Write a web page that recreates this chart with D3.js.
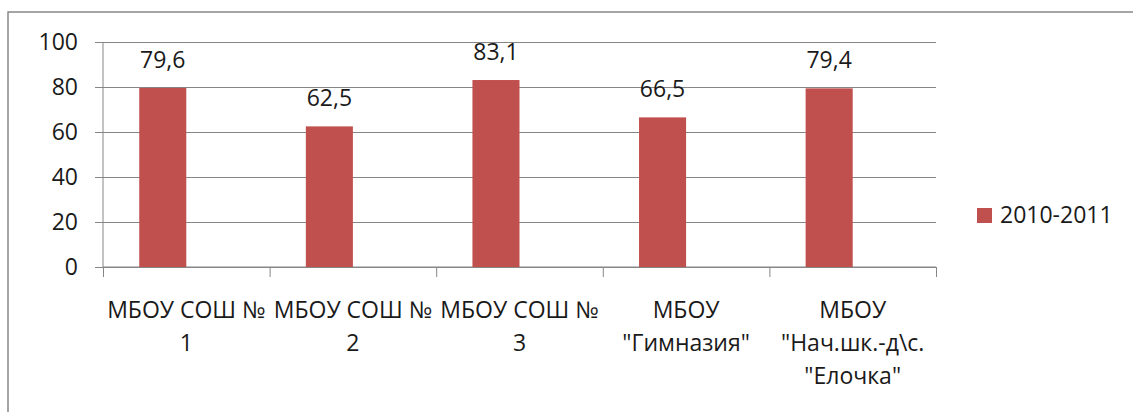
<!DOCTYPE html>
<html><head><meta charset="utf-8">
<script src="https://cdn.jsdelivr.net/npm/d3@7"></script>
<style>body{margin:0;background:#fff;} text{font-family:"Open Sans",sans-serif;fill:#1a1a1a;}</style>
</head><body><div id="chart"></div>
<script>
const categories = ["МБОУ СОШ №\n1", "МБОУ СОШ №\n2", "МБОУ СОШ №\n3", "МБОУ\n\"Гимназия\"", "МБОУ\n\"Нач.шк.-д\\с.\n\"Елочка\""];
const seriesName = "2010-2011";
const values = [79.6, 62.5, 83.1, 66.5, 79.4];
const valueLabels = ["79,6", "62,5", "83,1", "66,5", "79,4"];
const yTicks = [0, 20, 40, 60, 80, 100];

const W = 1133, H = 412;
const m = {left: 103, right: 1133 - 936, top: 42, bottom: 412 - 267};
const w = W - m.left - m.right, h = H - m.top - m.bottom;
const color = "#C0504D", gridColor = "#868686";
const fs = 23;

const svg = d3.select("#chart").append("svg").attr("width", W).attr("height", H);
svg.append("rect").attr("width", W).attr("height", H).attr("fill", "#fff");
svg.append("rect").attr("x", 8).attr("y", 12).attr("width", W + 50).attr("height", H + 50)
  .attr("fill", "none").attr("stroke", "#888").attr("stroke-width", 1.5);

const g = svg.append("g").attr("transform", `translate(${m.left},${m.top})`);
const x = d3.scaleBand().domain(categories).range([0, w]).padding(0);
// two slots per cluster; the series occupies the first one
const x1 = d3.scaleBand().domain([0, 1]).range([0, x.bandwidth()]).paddingInner(0).paddingOuter(0.77);
const y = d3.scaleLinear().domain([0, 100]).range([h, 0]);

// y gridlines + labels
const yAxis = g.append("g").attr("transform", "translate(-8,0)")
  .call(d3.axisLeft(y).tickValues(yTicks).tickSize(-(w + 8)).tickPadding(17).tickFormat(d3.format("d")));
yAxis.select(".domain").remove();
yAxis.selectAll(".tick line").attr("stroke", gridColor).attr("stroke-width", 1);
yAxis.selectAll(".tick text").attr("font-size", fs).attr("fill", "#1a1a1a").attr("font-family", "Open Sans").attr("dy", "0.32em");

// vertical axis line
g.append("line").attr("x1", 0).attr("x2", 0).attr("y1", 0).attr("y2", h).attr("stroke", gridColor);

// x axis with ticks between categories
const xi = d3.scaleLinear().domain([0, categories.length]).range([0, w]);
const xAxis = g.append("g").attr("transform", `translate(0,${h})`)
  .call(d3.axisBottom(xi).tickValues(d3.range(categories.length + 1)).tickSize(10).tickFormat(""));
xAxis.select(".domain").attr("stroke", gridColor).attr("d", `M0,0H${w}`);
xAxis.selectAll(".tick line").attr("stroke", gridColor);

// bars
g.selectAll("rect.bar").data(values).enter().append("rect").attr("class", "bar")
  .attr("x", (d, i) => x(categories[i]) + x1(0))
  .attr("width", x1.bandwidth())
  .attr("y", d => y(d)).attr("height", d => h - y(d)).attr("fill", color);

// value labels
g.selectAll("text.val").data(values).enter().append("text").attr("class", "val")
  .attr("x", (d, i) => x(categories[i]) + x1(0) + x1.bandwidth() / 2)
  .attr("y", d => y(d) - 20).attr("text-anchor", "middle").attr("font-size", fs)
  .text((d, i) => valueLabels[i]);

// category labels
categories.forEach(c => {
  const t = g.append("text").attr("text-anchor", "middle").attr("font-size", fs)
    .attr("transform", `translate(${x(c) + x.bandwidth() / 2},${h + 51})`);
  c.split("\n").forEach((line, j) => {
    t.append("tspan").attr("x", 0).attr("y", j * 33).text(line);
  });
});

// legend
const lg = svg.append("g").attr("transform", "translate(977,208)");
lg.append("rect").attr("width", 15).attr("height", 15).attr("fill", color);
lg.append("text").attr("x", 23).attr("y", 15).attr("font-size", fs).text(seriesName);
</script></body></html>
